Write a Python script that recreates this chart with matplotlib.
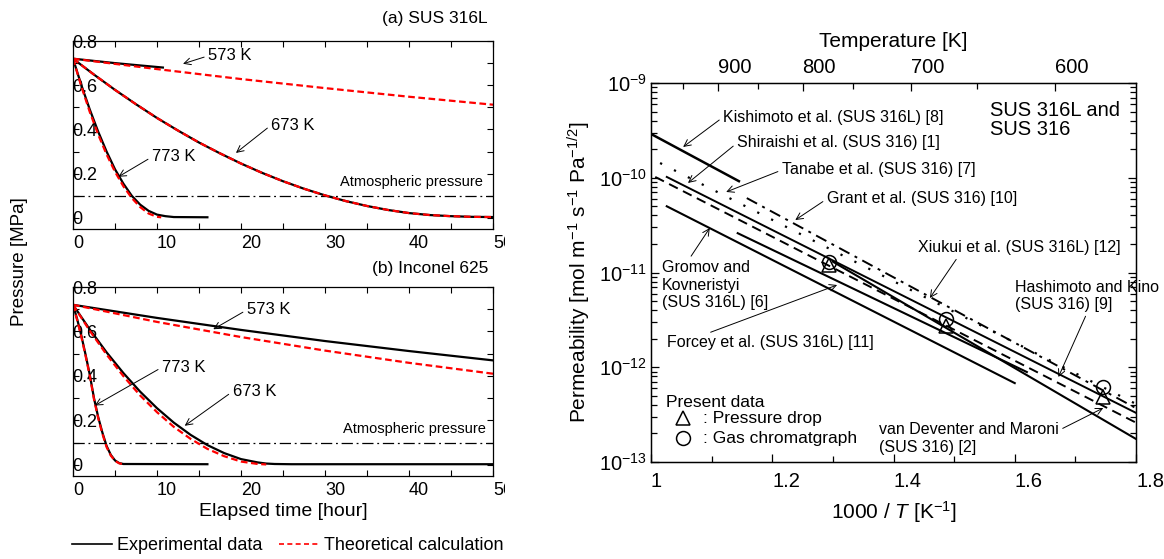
import matplotlib.pyplot as plt
from matplotlib.lines import Line2D
from matplotlib.patches import Rectangle

plt.rcParams['font.family'] = ['Liberation Sans', 'DejaVu Sans']
plt.rcParams['mathtext.fontset'] = 'custom'
plt.rcParams['mathtext.rm'] = 'Liberation Sans'
plt.rcParams['mathtext.it'] = 'Liberation Sans:italic'
plt.rcParams['mathtext.default'] = 'regular'

# ---- (a) SUS 316L : pressure vs elapsed time ----
a573_exp_t = [0, 5, 10.7]
a573_exp_p = [0.72, 0.70, 0.68]
a573_calc_t = [0, 10, 20, 30, 40, 50]
a573_calc_p = [0.72, 0.673, 0.628, 0.587, 0.548, 0.512]

a673_t = [0, 2.5, 5, 7.5, 10, 12.5, 15, 17.5, 20, 22.5, 25, 27.5, 30, 32.5,
          35, 37.5, 40, 42.5, 45, 47.5, 50]
a673_exp_p = [0.72, 0.648, 0.579, 0.514, 0.452, 0.395, 0.341, 0.292, 0.246,
              0.204, 0.166, 0.132, 0.102, 0.076, 0.054, 0.036, 0.022, 0.013,
              0.008, 0.005, 0.004]
a673_calc_p = [0.72, 0.648, 0.579, 0.514, 0.452, 0.395, 0.341, 0.292, 0.246,
               0.204, 0.166, 0.132, 0.102, 0.076, 0.054, 0.036, 0.022, 0.013,
               0.008, 0.005, 0.004]

a773_exp_t = [0, 1, 2, 3, 4, 5, 6, 7, 8, 9, 10, 11, 12, 16]
a773_exp_p = [0.72, 0.60, 0.49, 0.39, 0.30, 0.22, 0.155, 0.10, 0.06, 0.032,
              0.015, 0.008, 0.004, 0.003]
a773_calc_t = [0, 1, 2, 3, 4, 5, 6, 7, 8, 9, 10, 10.5]
a773_calc_p = [0.72, 0.594, 0.479, 0.377, 0.287, 0.209, 0.143, 0.09, 0.049,
               0.02, 0.005, 0.003]

# ---- (b) Inconel 625 ----
b573_t = [0, 10, 20, 30, 40, 50]
b573_exp_p = [0.72, 0.661, 0.607, 0.557, 0.512, 0.47]
b573_calc_p = [0.72, 0.643, 0.575, 0.514, 0.459, 0.41]

b673_exp_t = [0, 2, 4, 6, 8, 10, 12, 14, 16, 18, 20, 22, 23, 24, 26, 50]
b673_exp_p = [0.72, 0.609, 0.506, 0.413, 0.329, 0.255, 0.19, 0.135, 0.089,
              0.053, 0.026, 0.011, 0.006, 0.004, 0.003, 0.003]
b673_calc_t = [0, 2, 4, 6, 8, 10, 12, 14, 16, 18, 20, 22, 23]
b673_calc_p = [0.72, 0.603, 0.496, 0.399, 0.312, 0.237, 0.171, 0.117, 0.072,
               0.039, 0.015, 0.004, 0.002]

b773_exp_t = [0, 0.5, 1, 1.5, 2, 2.5, 3, 3.5, 4, 4.5, 5, 5.5, 6, 16]
b773_exp_p = [0.72, 0.655, 0.58, 0.495, 0.405, 0.30, 0.215, 0.145, 0.085,
              0.045, 0.02, 0.008, 0.004, 0.003]
b773_calc_t = [0, 0.5, 1, 1.5, 2, 2.5, 3, 3.5, 4, 4.5, 5, 5.5, 6]
b773_calc_p = [0.72, 0.65, 0.575, 0.49, 0.40, 0.295, 0.21, 0.14, 0.08,
               0.042, 0.018, 0.007, 0.003]

atm_pressure = 0.1

# ---- permeability of SUS 316L / SUS 316 (Arrhenius lines) ----
ref_x0 = [1.0, 1.015, 1.158, 1.007, 1.026, 1.026, 1.143, 1.30]
ref_x1 = [1.145, 1.8, 1.8, 1.8, 1.8, 1.6, 1.62, 1.8]
ref_p0 = [2.9e-10, 1.43e-10, 6.1e-11, 1.02e-10, 1.02e-10, 5.0e-11, 2.6e-11,
          1.3e-11]
ref_p1 = [9.2e-11, 4.1e-13, 3.7e-13, 2.6e-13, 3.3e-13, 6.8e-13, 8.9e-13,
          1.75e-13]
ref_styles = ['-', (0, (1, 6)), (0, (6, 3, 1.5, 3)), (0, (5, 3)), '-',
              '-', '-', '-']
ref_widths = [1.8, 1.6, 1.4, 1.4, 1.4, 1.5, 1.5, 1.5]

present_T = [773, 673, 573]
perm_pressure_drop = [1.2e-11, 2.72e-12, 4.9e-13]
perm_gas_chrom = [1.29e-11, 3.24e-12, 6.2e-13]

temp_major = [900, 800, 700, 600]
temp_minor = [950, 850, 750, 650]

W, H = 1164, 559
fig = plt.figure(figsize=(W / 100, H / 100), dpi=100)


def box(x0, y0, x1, y1):
    return [x0 / W, 1 - y1 / H, (x1 - x0) / W, (y1 - y0) / H]


red_dash = (0, (3, 1.6))


def style_pressure(ax):
    ax.set_xlim(0, 50)
    ax.set_ylim(-0.05, 0.8)
    ax.set_xticks([0, 10, 20, 30, 40, 50], ['0', '10', '20', '30', '40', '50'], ha='left')
    ax.set_xticks([5, 15, 25, 35, 45], minor=True)
    ax.set_yticks([0, 0.2, 0.4, 0.6, 0.8], ['0', '0.2', '0.4', '0.6', '0.8'], ha='left')
    ax.set_yticks([0.1, 0.3, 0.5, 0.7], minor=True)
    ax.tick_params(which='both', direction='in', top=True, right=True,
                   length=4, width=0.8, labelsize=13)
    ax.tick_params(axis='y', pad=0.5)
    ax.tick_params(axis='x', pad=4)
    for s in ax.spines.values():
        s.set_linewidth(0.9)
    ax.axhline(atm_pressure, color='black', lw=0.9, ls=(0, (9, 3, 1.5, 3)))


def note(ax, text, tip, pos, size=12, rel=(0, 0.5), ha='left'):
    ax.annotate(text, xy=tip, xytext=pos, ha=ha, va='center', fontsize=size,
                arrowprops=dict(arrowstyle='->', lw=0.7, color='black',
                                shrinkA=1, shrinkB=0, mutation_scale=12,
                                relpos=rel))


# (a) SUS 316L
ax_a = fig.add_axes(box(73, 41, 493, 229))
style_pressure(ax_a)
for t, p in [(a573_exp_t, a573_exp_p), (a673_t, a673_exp_p), (a773_exp_t, a773_exp_p)]:
    ax_a.plot(t, p, color='black', lw=1.6)
for t, p in [(a573_calc_t, a573_calc_p), (a673_t, a673_calc_p), (a773_calc_t, a773_calc_p)]:
    ax_a.plot(t, p, color='red', lw=1.6, ls=red_dash)
note(ax_a, '573 K', (13.1, 0.697), (16.1, 0.733))
note(ax_a, '673 K', (19.4, 0.294), (23.6, 0.42))
note(ax_a, '773 K', (5.4, 0.186), (9.4, 0.276))
ax_a.text(31.8, 0.163, 'Atmospheric pressure', fontsize=10.5, va='center')

# (b) Inconel 625
ax_b = fig.add_axes(box(73, 287, 493, 476))
style_pressure(ax_b)
for t, p in [(b573_t, b573_exp_p), (b673_exp_t, b673_exp_p), (b773_exp_t, b773_exp_p)]:
    ax_b.plot(t, p, color='black', lw=1.6)
for t, p in [(b573_t, b573_calc_p), (b673_calc_t, b673_calc_p), (b773_calc_t, b773_calc_p)]:
    ax_b.plot(t, p, color='red', lw=1.6, ls=red_dash)
note(ax_b, '573 K', (16.7, 0.61), (20.7, 0.697))
note(ax_b, '773 K', (2.6, 0.267), (10.6, 0.439))
note(ax_b, '673 K', (13.3, 0.176), (19.0, 0.330))
ax_b.text(32.1, 0.163, 'Atmospheric pressure', fontsize=10.5, va='center')
ax_b.set_xlabel('Elapsed time [hour]', fontsize=14, labelpad=3)

fig.text(488 / W, 1 - 18 / H, '(a) SUS 316L', fontsize=12.5, ha='right', va='center')
fig.text(488 / W, 1 - 268 / H, '(b) Inconel 625', fontsize=12.5, ha='right', va='center')
fig.text(20 / W, 1 - 262 / H, 'Pressure [MPa]', fontsize=13.5, rotation=90,
         ha='center', va='center')

# the pressure panels are cut through their last tick label
fig.patches.append(Rectangle((505 / W, 1 - 520 / H), 50 / W, 520 / H,
                             transform=fig.transFigure, facecolor='white',
                             edgecolor='none', zorder=5))

handles = [Line2D([], [], color='black', lw=1.2),
           Line2D([], [], color='red', lw=1.2, ls=(0, (3, 2)))]
fig.legend(handles, ['Experimental data', 'Theoretical calculation'], ncol=2,
           loc='center left', bbox_to_anchor=(72 / W, 1 - 546 / H),
           frameon=False, fontsize=13, handlelength=2.2, handletextpad=0.3,
           columnspacing=0.9, borderpad=0, borderaxespad=0)

# permeability panel
ax_r = fig.add_axes(box(651, 83, 1136, 462))
ax_r.set_yscale('log')
ax_r.set_xlim(1, 1.8)
ax_r.set_ylim(1e-13, 1e-9)
for x0, x1, p0, p1, ls, lw in zip(ref_x0, ref_x1, ref_p0, ref_p1, ref_styles, ref_widths):
    ax_r.plot([x0, x1], [p0, p1], color='black', lw=lw, ls=ls)
present_x = [1000 / T for T in present_T]
ax_r.plot(present_x, perm_pressure_drop, ls='none', marker='^', ms=10,
          mfc='none', mec='black', mew=1.1)
ax_r.plot(present_x, perm_gas_chrom, ls='none', marker='o', ms=10,
          mfc='none', mec='black', mew=1.1)

ax_r.set_xticks([1, 1.2, 1.4, 1.6, 1.8], ['1', '1.2', '1.4', '1.6', '1.8'], ha='left')
ax_r.set_xticks([1.1, 1.3, 1.5, 1.7], minor=True)
ax_r.tick_params(which='both', direction='in', top=False, right=True,
                 labelsize=14.5, width=0.9)
ax_r.tick_params(which='major', length=6)
ax_r.tick_params(which='minor', length=4)
ax_r.tick_params(axis='x', pad=7)
ax_r.tick_params(axis='y', pad=3)
for s in ax_r.spines.values():
    s.set_linewidth(1.0)
ax_r.set_xlabel('1000 / $\\mathit{T}$ [K$^{-1}$]', fontsize=15, labelpad=6)
ax_r.set_ylabel('Permeability [mol m$^{-1}$ s$^{-1}$ Pa$^{-1/2}$]', fontsize=15,
                labelpad=4)

top = ax_r.twiny()
top.set_xlim(1, 1.8)
top.set_xticks([1000 / T for T in temp_major], [str(T) for T in temp_major], ha='left')
top.set_xticks([1000 / T for T in temp_minor], minor=True)
top.tick_params(which='both', direction='in', labelsize=14.5, width=0.9, pad=4)
top.tick_params(which='major', length=6)
top.tick_params(which='minor', length=4)
top.set_xlabel('Temperature [K]', fontsize=15, labelpad=8)

note(ax_r, 'Kishimoto et al. (SUS 316L) [8]', (1.053, 10 ** -9.675), (1.119, 10 ** -9.36), size=11.5)
note(ax_r, 'Shiraishi et al. (SUS 316) [1]', (1.061, 10 ** -10.055), (1.142, 10 ** -9.633), size=11.5)
note(ax_r, 'Tanabe et al. (SUS 316) [7]', (1.124, 10 ** -10.15), (1.216, 10 ** -9.918), size=11.5)
note(ax_r, 'Grant et al. (SUS 316) [10]', (1.238, 10 ** -10.446), (1.29, 10 ** -10.224), size=11.5)
note(ax_r, 'Xiukui et al. (SUS 316L) [12]', (1.46, 10 ** -11.269), (1.441, 10 ** -10.741),
     size=11.5, rel=(0.2, 0))
note(ax_r, 'Hashimoto and Kino\n(SUS 316) [9]', (1.672, 10 ** -12.103), (1.601, 10 ** -11.248),
     size=11.5, rel=(0.5, 0))
note(ax_r, 'van Deventer and Maroni\n(SUS 316) [2]', (1.746, 10 ** -12.43), (1.376, 10 ** -12.752),
     size=11.5, rel=(1, 0.75))
note(ax_r, 'Gromov and\nKovneristyi\n(SUS 316L) [6]', (1.097, 10 ** -10.53), (1.018, 10 ** -11.132),
     size=11.5, rel=(0.25, 1))
note(ax_r, 'Forcey et al. (SUS 316L) [11]', (1.307, 10 ** -11.132), (1.026, 10 ** -11.744),
     size=11.5, rel=(0.17, 1))

ax_r.text((990 - 651) / 485, (462 - 120) / 379, 'SUS 316L and\nSUS 316', transform=ax_r.transAxes,
          fontsize=14.5, va='center', ha='left', linespacing=1.0)
ax_r.text(0.031, 0.156, 'Present data', transform=ax_r.transAxes, fontsize=12.5, va='center')
ax_r.plot([0.066], [0.116], marker='^', ms=10, mfc='none', mec='black', mew=1.1,
          transform=ax_r.transAxes)
ax_r.plot([0.066], [0.063], marker='o', ms=10, mfc='none', mec='black', mew=1.1,
          transform=ax_r.transAxes)
ax_r.text(0.107, 0.116, ': Pressure drop', transform=ax_r.transAxes, fontsize=12.5, va='center')
ax_r.text(0.107, 0.063, ': Gas chromatgraph', transform=ax_r.transAxes, fontsize=12.5, va='center')

fig.savefig('out.png', dpi=100)
